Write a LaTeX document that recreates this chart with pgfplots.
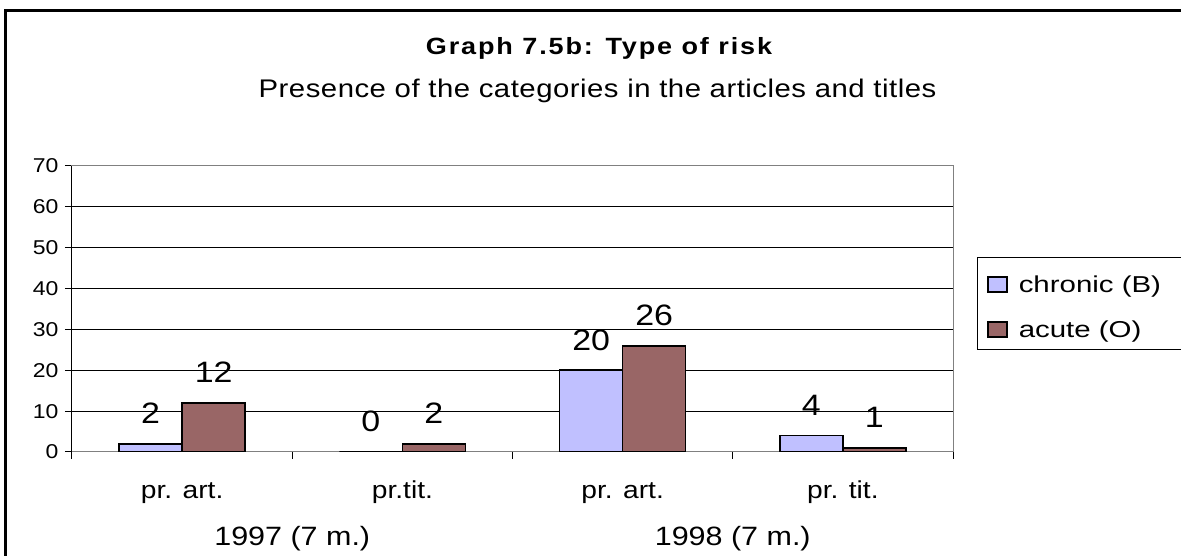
\documentclass[border=0pt]{standalone}
\usepackage{fontspec}
\usepackage{pgfplots}
\pgfplotsset{compat=1.18}
\setmainfont{Liberation Sans}[FakeStretch=1.15]
\newfontfamily\legfont{Liberation Sans}[FakeStretch=1.28]
\newfontfamily\titlefont{Liberation Sans}[FakeStretch=1.15,LetterSpace=8]
\newfontfamily\subfont{Liberation Sans}[FakeStretch=1.15,LetterSpace=2]
\definecolor{chron}{HTML}{C0C0FF}
\definecolor{acut}{HTML}{996666}
\pgfplotsset{boxlegend/.style={legend image code/.code={\draw[##1, draw=black, line width=1.5pt] (0pt,0pt) rectangle (19pt,15pt); \path (30pt,0pt);}}}
\begin{document}
\begin{tikzpicture}[x=1pt,y=1pt]
\useasboundingbox (0,0) rectangle (1181,556);
\draw[line width=2.5pt] (5.5,0) -- (5.5,545.5) -- (1181,545.5);
\node[anchor=base, inner sep=0pt, font=\titlefont\bfseries\fontsize{23.5}{26}\selectfont] at (599,501) {Graph 7.5b: Type of risk};
\node[anchor=base, inner sep=0pt, font=\subfont\fontsize{25.5}{28}\selectfont] at (597.5,458.5) {Presence of the categories in the articles and titles};
\begin{axis}[
  at={(72pt,104pt)}, anchor=south west,
  width=881pt, height=286pt, scale only axis,
  clip mode=individual,
  xmin=-0.5, xmax=3.5, ymin=0, ymax=70,
  ytick={0,10,...,70},
  xtick={-0.5,0.5,1.5,2.5,3.5}, xticklabels={},
  extra x ticks={0,1,2,3},
  extra x tick labels={pr. art.,pr.tit.,pr. art.,pr. tit.},
  extra x tick style={major tick length=0pt, xticklabel style={anchor=base, yshift=-47pt, font=\fontsize{24.5}{26}\selectfont}},
  tick pos=left, tick align=outside, major tick length=7pt,
  tick style={black, line width=1pt},
  ymajorgrids, grid style={black, line width=1pt},
  axis line style={gray, line width=1pt},
  yticklabel style={font=\fontsize{20}{21}\selectfont, xshift=-3pt},
  /pgf/number format/assume math mode=true,
  ybar=0pt, bar width=63pt,
  nodes near coords,
  every node near coord/.append style={font=\fontsize{29.5}{30}\selectfont, anchor=base, yshift=20pt, black},
  legend style={draw=none, fill=none, at={(1.03859,0.61888)}, anchor=north west, inner sep=0pt, row sep=23pt, font=\legfont\fontsize{23}{24}\selectfont, nodes={inner sep=0pt, text height=17pt, text depth=5pt}, cells={anchor=base west}},
]
\addplot[fill=chron, draw=black, line width=1.6pt, boxlegend] coordinates {(0,2) (1,0) (2,20) (3,4)};
\addplot[fill=acut, draw=black, line width=1.6pt, boxlegend] coordinates {(0,12) (1,2) (2,26) (3,1)};
\legend{chronic (B), acute (O)}
\draw[black, line width=1pt] (rel axis cs:0,0) -- (rel axis cs:0,1);
\node[anchor=base, inner sep=0pt, font=\fontsize{26.5}{28}\selectfont] at ([yshift=-94pt]axis cs:0.5,0) {1997 (7 m.)};
\node[anchor=base, inner sep=0pt, font=\fontsize{26.5}{28}\selectfont] at ([yshift=-94pt]axis cs:2.5,0) {1998 (7 m.)};
\end{axis}
\draw[line width=1pt] (1181,298) -- (977,298) -- (977,206) -- (1181,206);
\end{tikzpicture}
\end{document}
